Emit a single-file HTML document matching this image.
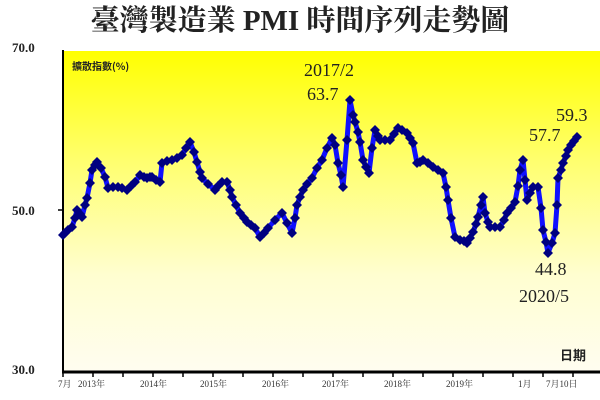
<!DOCTYPE html>
<html><head><meta charset="utf-8"><style>
body{margin:0;background:#fff;}
svg{display:block}
</style></head><body>
<svg width="600" height="400" viewBox="0 0 600 400" xmlns="http://www.w3.org/2000/svg">
<defs>
<linearGradient id="bg" x1="0" y1="0" x2="0" y2="1">
<stop offset="0" stop-color="#ffff00"/>
<stop offset="0.35" stop-color="#ffff70"/>
<stop offset="0.7" stop-color="#fffed0"/>
<stop offset="1" stop-color="#fffdf0"/>
</linearGradient>
<marker id="d" viewBox="-5 -5 10 10" markerWidth="10" markerHeight="10" refX="0" refY="0" markerUnits="userSpaceOnUse">
<path d="M0,-5 L5,0 L0,5 L-5,0Z" fill="#000080"/>
</marker>
</defs>
<text x="300" y="30" text-anchor="middle" font-family="Liberation Serif, 'Noto Serif CJK SC', serif" font-size="29" font-weight="bold" fill="#222">臺灣製造業 PMI 時間序列走勢圖</text>
<rect x="62" y="51" width="538" height="320" fill="url(#bg)"/>
<line x1="63" y1="50" x2="63" y2="372" stroke="#000" stroke-width="2"/>
<line x1="62" y1="372" x2="600" y2="372" stroke="#000" stroke-width="3"/>
<g stroke="#000" stroke-width="1.5">
<line x1="63" y1="372" x2="63" y2="377"/><line x1="93" y1="372" x2="93" y2="377"/><line x1="123" y1="372" x2="123" y2="377"/><line x1="153" y1="372" x2="153" y2="377"/><line x1="183" y1="372" x2="183" y2="377"/><line x1="213" y1="372" x2="213" y2="377"/><line x1="243" y1="372" x2="243" y2="377"/><line x1="273" y1="372" x2="273" y2="377"/><line x1="303" y1="372" x2="303" y2="377"/><line x1="333" y1="372" x2="333" y2="377"/><line x1="363" y1="372" x2="363" y2="377"/><line x1="393" y1="372" x2="393" y2="377"/><line x1="423" y1="372" x2="423" y2="377"/><line x1="453" y1="372" x2="453" y2="377"/><line x1="483" y1="372" x2="483" y2="377"/><line x1="513" y1="372" x2="513" y2="377"/><line x1="543" y1="372" x2="543" y2="377"/><line x1="573" y1="372" x2="573" y2="377"/>
<line x1="58" y1="210" x2="63" y2="210"/>
</g>
<g font-family="Liberation Serif, serif" font-weight="bold" font-size="13" fill="#222">
<text x="12" y="52">70.0</text><text x="12" y="215">50.0</text><text x="12" y="374">30.0</text>
</g>
<g font-family="Liberation Serif, 'Noto Serif CJK SC', serif" font-size="9" fill="#333">
<text x="58" y="387">7月</text><text x="78" y="387">2013年</text><text x="140" y="387">2014年</text><text x="200" y="387">2015年</text><text x="262" y="387">2016年</text><text x="322" y="387">2017年</text><text x="384" y="387">2018年</text><text x="446" y="387">2019年</text><text x="518" y="387">1月</text><text x="546" y="387">7月10日</text>
</g>
<text x="72" y="70" font-family="'Noto Sans CJK TC', sans-serif" font-size="10" font-weight="bold" fill="#222">擴散指數(%)</text>
<text x="560" y="360" font-family="'Noto Sans CJK TC', sans-serif" font-size="13" font-weight="bold" fill="#222">日期</text>
<g font-family="Liberation Serif, serif" font-size="18" fill="#222">
<text x="304" y="76">2017/2</text><text x="307" y="100">63.7</text>
<text x="556" y="121">59.3</text><text x="529" y="141">57.7</text>
<text x="535" y="275">44.8</text><text x="519" y="302">2020/5</text>
</g>
<polyline fill="none" stroke="#1010ff" stroke-width="5" stroke-linejoin="round" marker-start="url(#d)" marker-mid="url(#d)" marker-end="url(#d)"
points="63,235 65,233 68,230 72,227 75,218 77,210 80,214 82,217 85,205 87,198 90,183 92,170 95,165 97,162 101,168 105,177 108,188 113,187 118,187 122,188 127,190 131,186 135,182 140,175 144,177 147,178 150,177 152,177 156,180 160,182 162,163 167,161 172,160 177,158 182,155 186,148 190,142 194,152 197,162 200,172 202,178 208,184 215,190 218,186 222,182 227,182 230,190 232,197 236,205 240,213 244,218 247,222 251,225 255,228 260,237 264,233 268,228 275,220 282,213 287,223 292,233 295,218 297,205 300,197 303,190 307,184 312,178 317,168 322,160 327,148 332,138 335,145 338,163 341,175 343,187 347,140 350,100 353,115 355,122 358,132 360,142 363,160 366,167 369,173 372,148 375,130 378,136 380,140 385,140 390,140 394,134 398,128 402,130 407,133 410,138 413,143 417,163 420,162 423,160 428,163 433,167 438,170 443,173 446,187 448,200 451,218 455,237 460,240 464,241 467,243 470,238 473,232 476,224 478,217 481,205 483,197 485,213 488,222 490,227 495,227 500,227 504,220 507,213 511,208 515,202 518,186 520,170 523,160 525,180 527,200 530,193 533,187 538,187 541,208 543,230 546,242 548,253 552,243 555,233 557,205 558,178 561,170 563,163 566,156 568,150 571,145 574,141 577,137"/>
</svg>
</body></html>
